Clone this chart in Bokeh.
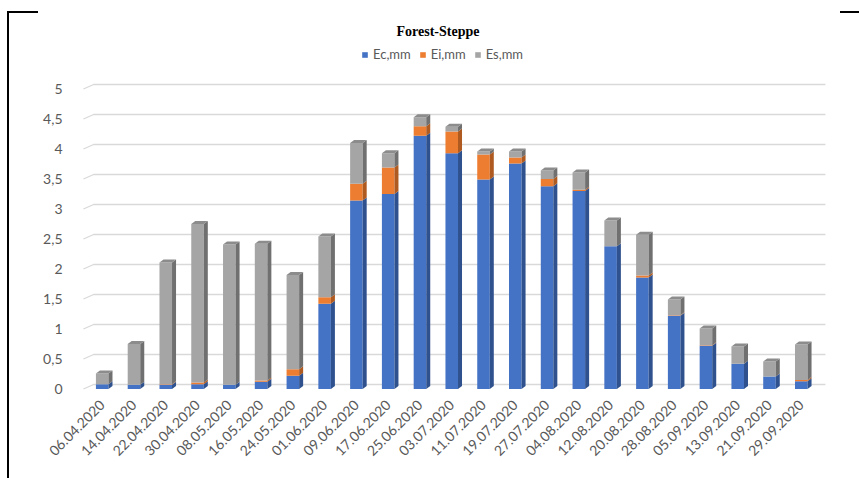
import math
from bokeh.plotting import figure
from bokeh.models import (Range1d, FixedTicker, Legend, LegendItem, ColumnDataSource,
                          InlineStyleSheet)
from bokeh.embed import file_html
from bokeh.resources import INLINE

# ---- data -------------------------------------------------------------
categories = ["06.04.2020", "14.04.2020", "22.04.2020", "30.04.2020", "08.05.2020",
              "16.05.2020", "24.05.2020", "01.06.2020", "09.06.2020", "17.06.2020",
              "25.06.2020", "03.07.2020", "11.07.2020", "19.07.2020", "27.07.2020",
              "04.08.2020", "12.08.2020", "20.08.2020", "28.08.2020", "05.09.2020",
              "13.09.2020", "21.09.2020", "29.09.2020"]
ec = [0.08, 0.07, 0.07, 0.08, 0.07, 0.12, 0.22, 1.42, 3.14, 3.25, 4.22, 3.93,
      3.49, 3.76, 3.38, 3.30, 2.38, 1.86, 1.22, 0.72, 0.42, 0.21, 0.13]
ei = [0.00, 0.00, 0.01, 0.03, 0.00, 0.02, 0.11, 0.11, 0.28, 0.44, 0.16, 0.36,
      0.42, 0.10, 0.12, 0.02, 0.00, 0.03, 0.01, 0.01, 0.00, 0.00, 0.02]
es = [0.18, 0.68, 2.03, 2.64, 2.34, 2.28, 1.57, 1.01, 0.68, 0.24, 0.15, 0.08,
      0.05, 0.10, 0.14, 0.29, 0.43, 0.68, 0.26, 0.28, 0.29, 0.25, 0.59]
series_names = ["Ec,mm", "Ei,mm", "Es,mm"]
y_ticks = [0, 0.5, 1, 1.5, 2, 2.5, 3, 3.5, 4, 4.5, 5]
y_tick_labels = ["0", "0,5", "1", "1,5", "2", "2,5", "3", "3,5", "4", "4,5", "5"]

# ---- style ------------------------------------------------------------
front_cols = ["#4472C4", "#ED7D31", "#A5A5A5"]
side_cols = ["#2F528F", "#AE5A21", "#707070"]
top_cols = ["#3A62AA", "#C96A28", "#8C8C8C"]
FONT = "Lato"
TXT = "#595959"

n = len(categories)
w = 0.395      # bar front width (category units)
dx = 0.126     # bar depth offset x
dy = 0.05      # bar depth offset y

p = figure(width=859, height=478, output_backend="svg", toolbar_location=None,
           x_range=Range1d(-0.683, n - 1 + 0.92), y_range=Range1d(-0.058, 5.808),
           min_border_left=80, min_border_right=29, min_border_top=40,
           min_border_bottom=86, title="Forest-Steppe")
p.outline_line_color = None
p.grid.visible = False
p.background_fill_color = "white"
p.border_fill_color = "white"

# title
p.title.text_font = "Liberation Serif"
p.title.text_font_style = "bold"
p.title.text_font_size = "14px"
p.title.text_color = "#000000"
p.title.align = "left"
p.title.offset = 316
p.title.standoff = 3

# pseudo-3D grid lines
gdy = 0.075
gx_front = -0.59
gx_back = -0.27
gx_end = n - 1 + 0.76
p.multi_line([[gx_front, gx_back, gx_end] for _ in y_ticks],
             [[v, v + gdy, v + gdy] for v in y_ticks],
             line_color="#D9D9D9", line_width=1.3)

# front faces
src = ColumnDataSource(dict(x=list(range(n)), ec=ec, ei=ei, es=es))
rs = p.vbar_stack(["ec", "ei", "es"], x="x", width=w, source=src,
                  fill_color=front_cols, line_color=None)

# side and top faces
pxs, pys, pcs = [], [], []
for i in range(n):
    base = 0.0
    last = 0
    xr = i + w / 2
    xl = i - w / 2
    for k, vals in enumerate([ec, ei, es]):
        h = vals[i]
        top = base + h
        if h > 0:
            pxs.append([xr, xr + dx, xr + dx, xr])
            pys.append([base, base + dy, top + dy, top])
            pcs.append(side_cols[k])
            last = k
        base = top
    pxs.append([xl, xr, xr + dx, xl + dx])
    pys.append([base, base, base + dy, base + dy])
    pcs.append(top_cols[last])
p.patches(pxs, pys, fill_color=pcs, line_color=None)

# axes
p.xaxis.ticker = FixedTicker(ticks=list(range(n)))
p.xaxis.major_label_overrides = {i: c for i, c in enumerate(categories)}
p.xaxis.major_label_orientation = math.pi / 4
p.xaxis.major_label_standoff = 4
p.yaxis.ticker = FixedTicker(ticks=y_ticks)
p.yaxis.major_label_overrides = {t: l for t, l in zip(y_ticks, y_tick_labels)}
p.yaxis.major_label_standoff = 12
for ax in (p.xaxis[0], p.yaxis[0]):
    ax.axis_line_color = None
    ax.major_tick_line_color = None
    ax.minor_tick_line_color = None
    ax.major_label_text_font = FONT
    ax.major_label_text_color = TXT
p.xaxis.major_label_text_font_size = "14px"
p.yaxis.major_label_text_font_size = "14px"

# legend
legend = Legend(items=[LegendItem(label=nm, renderers=[r]) for nm, r in zip(series_names, rs)],
                orientation="horizontal", location=(281, 330), padding=0, spacing=8,
                glyph_width=7, glyph_height=7, label_standoff=5, label_height=15,
                label_text_font=FONT, label_text_font_size="13px", label_text_color=TXT,
                border_line_color=None, background_fill_alpha=0)
p.add_layout(legend)

# page corner marks (document frame around the chart)
css = """
:host { position: relative; }
:host::before { content: ""; position: absolute; left: 7px; top: 11px; width: 31px;
  height: 467px; border-left: 2px solid #000; border-top: 2px solid #000;
  box-sizing: border-box; z-index: 100; pointer-events: none; }
:host::after { content: ""; position: absolute; left: 840px; top: 11px; width: 19px;
  height: 2px; background: #000; z-index: 100; pointer-events: none; }
"""
p.stylesheets = [InlineStyleSheet(css=css)]

open("out.html", "w").write(file_html(p, INLINE))
